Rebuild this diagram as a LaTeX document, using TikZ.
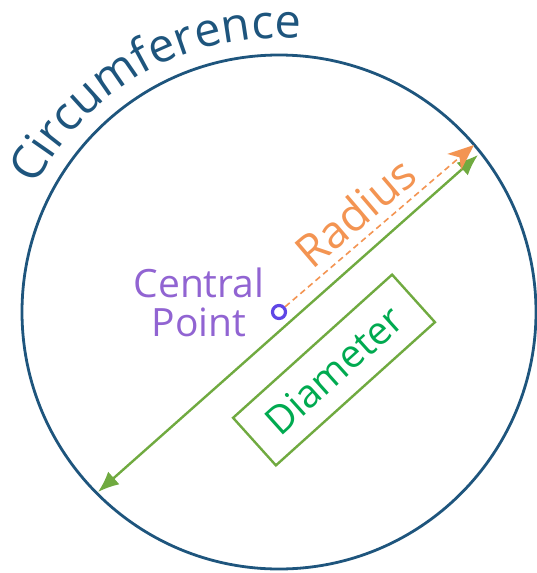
\documentclass[tikz,border=0pt]{standalone}
\usepackage{fontspec}
\setmainfont{Open Sans}
\usetikzlibrary{arrows.meta,decorations.text}
\definecolor{rimblue}{RGB}{30,85,125}
\definecolor{radorange}{RGB}{243,148,82}
\definecolor{ptpurple}{RGB}{145,100,210}
\definecolor{dotblue}{RGB}{95,70,230}
\definecolor{diamgreen}{RGB}{112,170,64}
\definecolor{diamtext}{RGB}{0,170,80}
\begin{document}
\begin{tikzpicture}[
  x=1pt,y=-1pt,
  rim/.style={draw=rimblue,line width=2.8pt},
  centre dot/.style={circle,draw=dotblue,line width=3.2pt,minimum size=13pt,inner sep=0pt},
  radius line/.style={radorange,line width=1.6pt,dash pattern=on 6pt off 4pt,-{Stealth[length=26pt,width=21pt,inset=7pt]}},
  diameter line/.style={diamgreen,line width=2.4pt,{Latex[length=21pt,width=17pt]}-{Latex[length=21pt,width=17pt]}},
  word/.style={inner sep=0pt,font=\fontsize{#1}{#1}\selectfont},
  diameter box/.style={draw=diamgreen,line width=2.4pt,rotate=42,minimum width=214pt,minimum height=64pt,text=diamtext,font=\fontsize{39}{39}\selectfont}
]
\useasboundingbox (0,0) rectangle (537,573);
% circle and centre
\coordinate (c) at (279,312);
\draw[rim] (c) circle[radius=257pt];
\path[decorate,decoration={text along path,text align=center,text color=rimblue,
  text={|\fontsize{47}{47}\selectfont|Circumference}}]
  (c) ++(172:274pt) arc[start angle=172,end angle=66,radius=274pt];
% diameter
\coordinate (dlo) at (98,492);
\coordinate (dhi) at (478,155);
\draw[diameter line] (dlo) -- (dhi);
\node[diameter box] (dbox) at (334,370) {Diameter};
% radius
\node[centre dot] (cdot) at (c) {};
\coordinate (rtip) at (474,145);
\draw[radius line] (cdot) -- (rtip);
\node[word=45,radorange,rotate=40.5] (radlbl) at (355,212) {Radius};
\node[inner sep=0pt,ptpurple,align=center,font=\fontsize{39}{39}\selectfont] (cplbl) at (199,302) {Central\\Point};
\end{tikzpicture}
\end{document}
